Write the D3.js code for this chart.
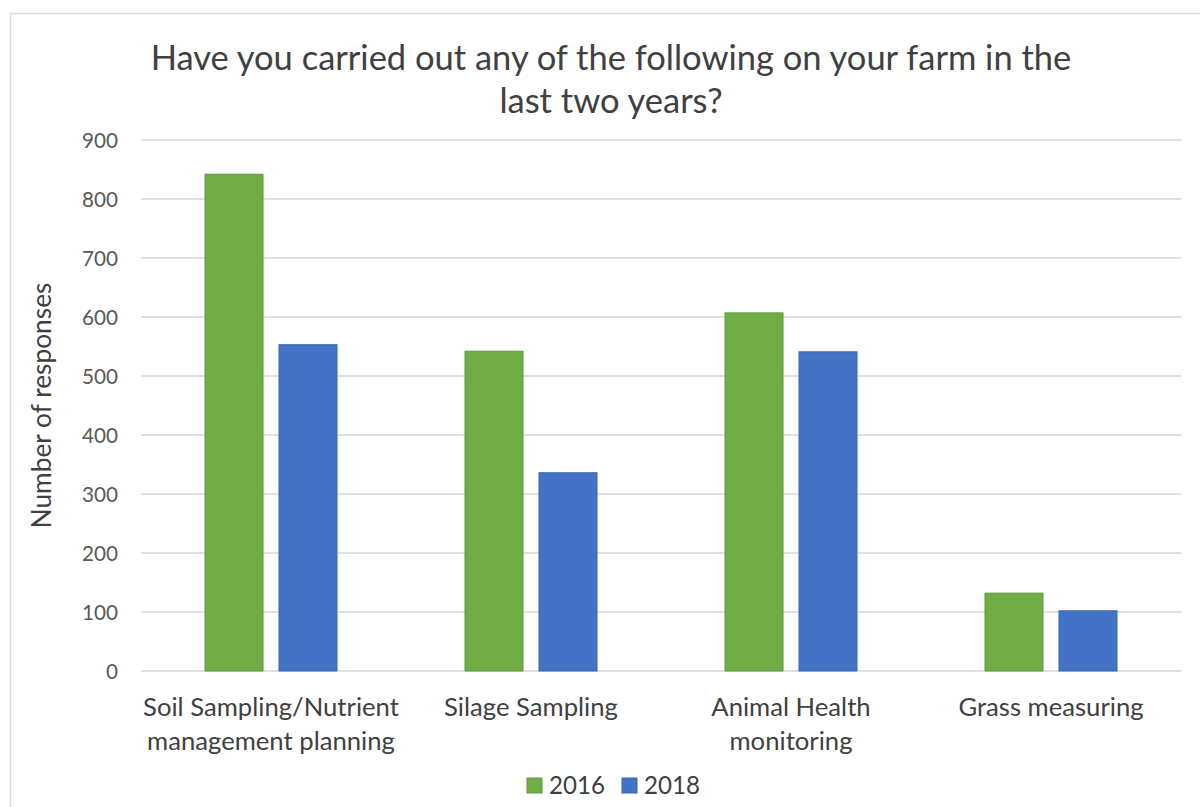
<!DOCTYPE html>
<html>
<head>
<meta charset="utf-8">
<script src="https://cdn.jsdelivr.net/npm/d3@7"></script>
<style>
  html, body { margin: 0; padding: 0; background: #ffffff; }
  svg { display: block; }
  text { font-family: Lato, "Open Sans", sans-serif; }
</style>
</head>
<body>
<svg id="chart" width="1200" height="807"></svg>
<script>
// Survey responses: farm practices carried out in the last two years
const categories = [
  "Soil Sampling/Nutrient management planning",
  "Silage Sampling",
  "Animal Health monitoring",
  "Grass measuring"
];
// Wrapped category labels as shown under the axis
const categoryLines = [
  ["Soil Sampling/Nutrient", "management planning"],
  ["Silage Sampling"],
  ["Animal Health", "monitoring"],
  ["Grass measuring"]
];
const seriesNames = ["2016", "2018"];
const values2016 = [842, 542, 607, 132];
const values2018 = [553, 336, 541, 102];
const yTicks = [0, 100, 200, 300, 400, 500, 600, 700, 800, 900];
const titleLines = [
  "Have you carried out any of the following on your farm in the",
  "last two years?"
];
const yAxisTitle = "Number of responses";

const colors = { "2016": "#70AD47", "2018": "#4472C4" };
const strokes = { "2016": "#5f9a3a", "2018": "#3a64b0" };

const svg = d3.select("#chart");

// Pick a font size so that a sample string spans the wanted width
function fitSize(sample, targetWidth, base) {
  const t = svg.append("text").attr("font-size", base).text(sample);
  const w = t.node().getComputedTextLength();
  t.remove();
  return base * targetWidth / w;
}

const plot = { left: 141, right: 1181, top: 140, bottom: 671 };

// Chart frame
svg.append("rect")
  .attr("x", 10.5).attr("y", 13.5)
  .attr("width", 1202).attr("height", 804)
  .attr("fill", "#ffffff")
  .attr("stroke", "#d9d9d9")
  .attr("stroke-width", 1.5);

const y = d3.scaleLinear().domain([0, 900]).range([plot.bottom, plot.top]);
const x0 = d3.scaleBand().domain(categories).range([plot.left, plot.right]).paddingInner(0).paddingOuter(0);
const groupHalf = 66;
const x1 = d3.scaleBand().domain(seriesNames)
  .range([x0.bandwidth() / 2 - groupHalf, x0.bandwidth() / 2 + groupHalf])
  .paddingInner(0.216).paddingOuter(0);

// Horizontal gridlines
svg.append("g")
  .selectAll("line")
  .data(yTicks)
  .join("line")
  .attr("x1", plot.left).attr("x2", plot.right)
  .attr("y1", d => y(d)).attr("y2", d => y(d))
  .attr("stroke", "#d6d6d6")
  .attr("stroke-width", 1.6);

// Y axis tick labels
const tickSize = fitSize("900", 36, 20);
const yAxis = d3.axisLeft(y).tickValues(yTicks).tickSize(0).tickPadding(0).tickFormat(d3.format("d"));
const yg = svg.append("g").attr("transform", `translate(118,0)`).call(yAxis);
yg.select(".domain").remove();
yg.selectAll("text")
  .attr("font-size", tickSize)
  .attr("font-family", "Lato, 'Open Sans', sans-serif")
  .attr("fill", "#595959")
  .attr("dy", "0.36em");

// Bars
const rows = categories.map((c, i) => ({ category: c, values: [
  { series: "2016", value: values2016[i] },
  { series: "2018", value: values2018[i] }
]}));

svg.append("g")
  .selectAll("g")
  .data(rows)
  .join("g")
  .attr("transform", d => `translate(${x0(d.category)},0)`)
  .selectAll("rect")
  .data(d => d.values)
  .join("rect")
  .attr("x", d => x1(d.series))
  .attr("width", x1.bandwidth())
  .attr("y", d => y(d.value))
  .attr("height", d => y(0) - y(d.value))
  .attr("fill", d => colors[d.series])
  .attr("stroke", d => strokes[d.series])
  .attr("stroke-width", 1);

// Category labels
const catSize = fitSize("Soil Sampling/Nutrient", 256, 22);
const xl = svg.append("g")
  .selectAll("text")
  .data(categories)
  .join("text")
  .attr("x", d => x0(d) + x0.bandwidth() / 2)
  .attr("y", 716)
  .attr("text-anchor", "middle")
  .attr("font-size", catSize)
  .attr("fill", "#404040");
xl.selectAll("tspan")
  .data((d, i) => categoryLines[i])
  .join("tspan")
  .attr("x", function () { return this.parentNode.getAttribute("x"); })
  .attr("dy", (d, i) => i === 0 ? 0 : 34)
  .text(d => d);

// Y axis title
const yTitleSize = fitSize(yAxisTitle, 246, 22);
svg.append("text")
  .attr("transform", `translate(51,${(plot.top + plot.bottom) / 2}) rotate(-90)`)
  .attr("text-anchor", "middle")
  .attr("font-size", yTitleSize)
  .attr("fill", "#404040")
  .text(yAxisTitle);

// Chart title
const titleSize = fitSize(titleLines[0], 921, 30);
svg.append("g")
  .selectAll("text")
  .data(titleLines)
  .join("text")
  .attr("x", 611)
  .attr("y", (d, i) => 70 + i * 43)
  .attr("text-anchor", "middle")
  .attr("font-size", titleSize)
  .attr("fill", "#404040")
  .text(d => d);

// Legend
const legendSize = fitSize("2016", 56, 20);
const legendX = [527, 622];
const lg = svg.append("g")
  .selectAll("g")
  .data(seriesNames)
  .join("g")
  .attr("transform", (d, i) => `translate(${legendX[i]},0)`);
lg.append("rect")
  .attr("x", 0).attr("y", 778)
  .attr("width", 15).attr("height", 15)
  .attr("fill", d => colors[d])
  .attr("stroke", d => strokes[d])
  .attr("stroke-width", 1);
lg.append("text")
  .attr("x", 22).attr("y", 794)
  .attr("font-size", legendSize)
  .attr("fill", "#404040")
  .text(d => d);
</script>
</body>
</html>
